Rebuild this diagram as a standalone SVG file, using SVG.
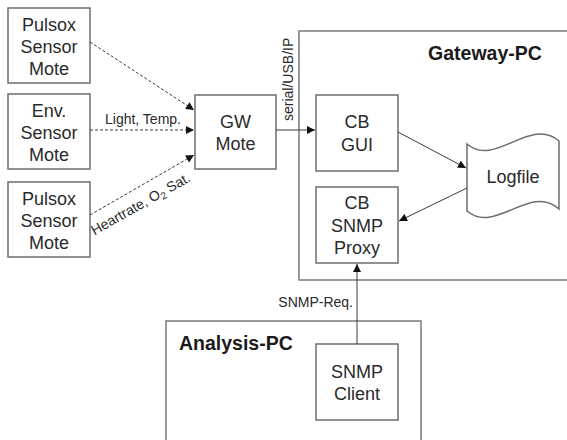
<svg xmlns="http://www.w3.org/2000/svg" width="567" height="440" viewBox="0 0 567 440">
  <style>
    .box { fill: #ffffff; stroke: #6e6e6e; stroke-width: 1.5; }
    .frame { fill: #ffffff; stroke: #7a7a7a; stroke-width: 1.5; }
    .lbl { font-family: "Liberation Sans", Arial, sans-serif; font-size: 18px; fill: #2a2a2a; text-anchor: middle; }
    .small { font-family: "Liberation Sans", Arial, sans-serif; font-size: 14px; fill: #2a2a2a; }
    .title { font-family: "Liberation Sans", Arial, sans-serif; font-size: 19.5px; font-weight: bold; fill: #1a1a1a; }
    .link { fill: none; stroke: #3a3a3a; stroke-width: 1; }
    .dash { stroke-dasharray: 3 2; }
  </style>
  <defs>
    <marker id="arrow" viewBox="0 0 10 10" refX="10" refY="5" markerWidth="9" markerHeight="8" markerUnits="userSpaceOnUse" orient="auto">
      <path d="M0,0 L10,5 L0,10 Z" fill="#111111"/>
    </marker>
  </defs>

  <rect width="567" height="440" fill="#ffffff"/>

  <!-- computer frames -->
  <g id="gateway-pc">
    <rect class="frame" x="299" y="31" width="280" height="249"/>
    <text class="title" x="485" y="60" text-anchor="middle">Gateway-PC</text>
  </g>
  <g id="analysis-pc">
    <rect class="frame" x="166" y="321" width="255" height="130"/>
    <text class="title" x="179" y="350">Analysis-PC</text>
  </g>

  <!-- sensor motes -->
  <g id="pulsox-1">
    <rect class="box" x="8" y="8" width="82" height="75"/>
    <text class="lbl" x="49" y="31">Pulsox</text>
    <text class="lbl" x="49" y="53">Sensor</text>
    <text class="lbl" x="49" y="75">Mote</text>
  </g>
  <g id="env-mote">
    <rect class="box" x="8" y="94" width="82" height="75"/>
    <text class="lbl" x="49" y="117">Env.</text>
    <text class="lbl" x="49" y="139">Sensor</text>
    <text class="lbl" x="49" y="161">Mote</text>
  </g>
  <g id="pulsox-2">
    <rect class="box" x="8" y="182" width="82" height="75"/>
    <text class="lbl" x="49" y="205">Pulsox</text>
    <text class="lbl" x="49" y="227">Sensor</text>
    <text class="lbl" x="49" y="249">Mote</text>
  </g>

  <!-- gateway mote -->
  <g id="gw-mote">
    <rect class="box" x="195" y="95" width="81" height="74"/>
    <text class="lbl" x="235.5" y="128">GW</text>
    <text class="lbl" x="235.5" y="150">Mote</text>
  </g>

  <!-- gateway PC components -->
  <g id="cb-gui">
    <rect class="box" x="316" y="95" width="82" height="76"/>
    <text class="lbl" x="357" y="128">CB</text>
    <text class="lbl" x="357" y="151">GUI</text>
  </g>
  <g id="cb-snmp-proxy">
    <rect class="box" x="316" y="187" width="82" height="76"/>
    <text class="lbl" x="357" y="209">CB</text>
    <text class="lbl" x="357" y="232">SNMP</text>
    <text class="lbl" x="357" y="254">Proxy</text>
  </g>
  <g id="logfile">
    <path class="box" stroke-width="1.2" d="M467,144 C495,168 530,116 559,141 L559,209 C530,183 495,235 467,211 Z"/>
    <text class="lbl" x="513" y="183">Logfile</text>
  </g>

  <!-- analysis PC component -->
  <g id="snmp-client">
    <rect class="box" x="316" y="344" width="82" height="76"/>
    <text class="lbl" x="357" y="378">SNMP</text>
    <text class="lbl" x="357" y="400">Client</text>
  </g>

  <!-- connectors -->
  <g id="connectors">
    <line class="link dash" x1="90" y1="42" x2="194" y2="110" marker-end="url(#arrow)"/>
    <line class="link dash" x1="90" y1="130" x2="194" y2="130" marker-end="url(#arrow)"/>
    <line class="link dash" x1="90" y1="215" x2="194" y2="155" marker-end="url(#arrow)"/>
    <line class="link" x1="276" y1="130" x2="315" y2="130" marker-end="url(#arrow)"/>
    <line class="link" x1="398" y1="132" x2="466" y2="168" marker-end="url(#arrow)"/>
    <line class="link" x1="467" y1="188" x2="399" y2="221" marker-end="url(#arrow)"/>
    <line class="link" x1="357" y1="344" x2="357" y2="264" marker-end="url(#arrow)"/>

    <text class="small" x="143" y="124" text-anchor="middle">Light, Temp.</text>
    <text class="small" font-size="15" transform="translate(143,208) rotate(-29.5)" text-anchor="middle">Heartrate, O<tspan font-size="10" dy="3">2</tspan><tspan dy="-3"> Sat.</tspan></text>
    <text class="small" font-size="16" transform="translate(293,121) rotate(-90)">serial/USB/IP</text>
    <text class="small" font-size="16" x="353" y="307" text-anchor="end">SNMP-Req.</text>
  </g>
</svg>
